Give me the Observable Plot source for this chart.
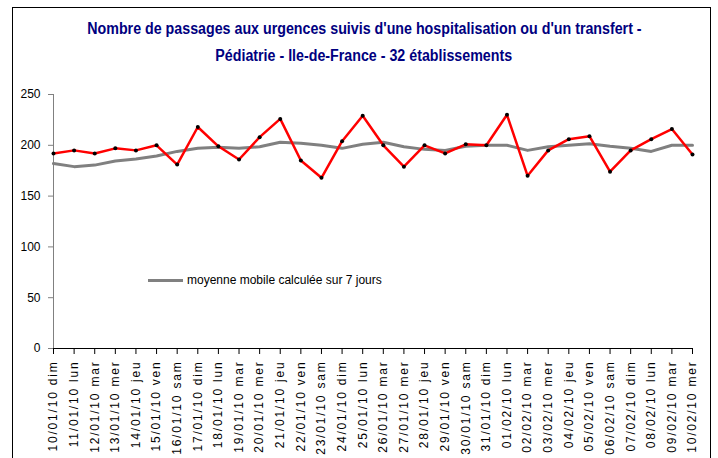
<!DOCTYPE html>
<html>
<head>
<meta charset="utf-8">
<script src="https://cdn.jsdelivr.net/npm/d3@7"></script>
<script src="https://cdn.jsdelivr.net/npm/@observablehq/plot@0.6"></script>
<style>
  html, body { margin: 0; padding: 0; background: #fff; }
  #wrap { position: relative; width: 718px; height: 458px; overflow: hidden; font-family: "Liberation Sans", Arial, sans-serif; }
  #frame { position: absolute; left: 12px; top: 7px; width: 699px; height: 470px; border: 1px solid #000; box-sizing: border-box; }
  .title { position: absolute; left: 0; width: 728px; text-align: center; white-space: nowrap; }
  .title span { display: inline-block; transform: scaleX(0.89); color: #000080; font-family: "Liberation Sans", Arial, sans-serif; font-weight: bold; font-size: 16px; line-height: 1; }
  #chart { position: absolute; left: 0; top: 0; }
  #legend { position: absolute; left: 148px; top: 273px; display: flex; align-items: center; font-size: 12px; color: #000; white-space: nowrap; }
  #legend .sw { width: 35px; height: 3px; background: #808080; margin-right: 4px; }
  #chart svg g[aria-label="x-axis tick label"] text { letter-spacing: 1.8px; }
</style>
</head>
<body>
<div id="wrap">
  <div id="frame"></div>
  <div class="title" style="top:20px"><span>Nombre de passages aux urgences suivis d'une hospitalisation ou d'un transfert -</span></div>
  <div class="title" style="top:47px"><span>Pédiatrie - Ile-de-France - 32 établissements</span></div>
  <div id="chart"></div>
  <div id="legend"><div class="sw"></div><span>moyenne mobile calculée sur 7 jours</span></div>
</div>
<script>
const dates = [
  "10/01/10 dim","11/01/10 lun","12/01/10 mar","13/01/10 mer","14/01/10 jeu","15/01/10 ven","16/01/10 sam",
  "17/01/10 dim","18/01/10 lun","19/01/10 mar","20/01/10 mer","21/01/10 jeu","22/01/10 ven","23/01/10 sam",
  "24/01/10 dim","25/01/10 lun","26/01/10 mar","27/01/10 mer","28/01/10 jeu","29/01/10 ven","30/01/10 sam",
  "31/01/10 dim","01/02/10 lun","02/02/10 mar","03/02/10 mer","04/02/10 jeu","05/02/10 ven","06/02/10 sam",
  "07/02/10 dim","08/02/10 lun","09/02/10 mar","10/02/10 mer"
];
const passages = [
  192, 195, 192, 197, 195, 200, 181,
  218, 199, 186, 208, 226, 185, 168,
  204, 229, 200, 179, 200, 192, 201,
  200, 230, 170, 195, 206, 209, 174,
  195, 206, 216, 191
];
const moyenneMobile = [
  182, 179, 180.5, 184.5, 186.5, 189.5, 194,
  197, 198, 197, 198.5, 203, 202, 200,
  197, 201, 203, 198.5, 196, 195, 199,
  200, 200, 195, 198.5, 200, 201.5, 199,
  197, 194, 200, 200
];
const yTicks = [0, 50, 100, 150, 200, 250];

const rows = dates.map((d, i) => ({date: d, v: passages[i], m: moyenneMobile[i]}));

const plot = Plot.plot({
  width: 718,
  height: 458,
  marginLeft: 53,
  marginRight: 26,
  marginTop: 94,
  marginBottom: 110,
  style: {fontFamily: "'Liberation Sans', Arial, sans-serif", fontSize: "12px", color: "#000", background: "transparent", overflow: "visible"},
  x: {type: "point", domain: dates, padding: 0, round: false},
  y: {domain: [0, 250]},
  marks: [
    Plot.axisY({ticks: yTicks, tickSize: 5, tickPadding: 8, label: null, stroke: "#808080", fill: "#000"}),
    Plot.axisX({tickRotate: -90, tickSize: 6, tickPadding: 6, label: null, stroke: "#000", fill: "#000"}),
    Plot.ruleX([dates[0]], {y1: 0, y2: 250, stroke: "#808080", strokeWidth: 1}),
    Plot.ruleY([0], {stroke: "#000", strokeWidth: 1}),
    Plot.line(rows, {x: "date", y: "m", stroke: "#808080", strokeWidth: 3}),
    Plot.line(rows, {x: "date", y: "v", stroke: "#ff0000", strokeWidth: 2.5}),
    Plot.dot(rows, {x: "date", y: "v", r: 2, fill: "#000", stroke: null})
  ]
});
document.getElementById("chart").appendChild(plot);
</script>
</body>
</html>
